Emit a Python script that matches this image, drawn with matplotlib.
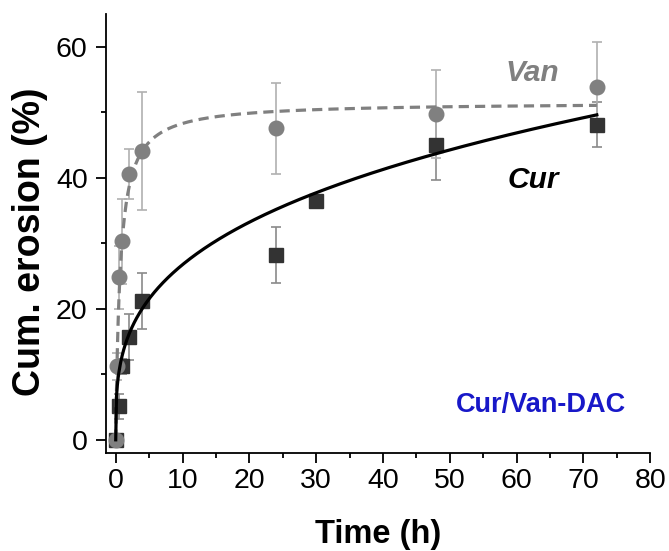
import matplotlib
matplotlib.use("Agg")
import matplotlib.pyplot as plt
import numpy as np
from matplotlib.ticker import MultipleLocator

plt.rcParams['font.family'] = ['Liberation Sans', 'DejaVu Sans']

# measured points (time in h, cumulative erosion in %)
van_t = [0, 0.25, 0.5, 1, 2, 4, 24, 48, 72]
van_y = [0, 11.2, 24.8, 30.3, 40.5, 44.0, 47.5, 49.7, 53.9]
van_err = [0, 2.0, 4.8, 6.5, 3.8, 9.0, 7.0, 6.7, 6.8]

cur_t = [0, 0.5, 1, 2, 4, 24, 30, 48, 72]
cur_y = [0, 5.1, 11.2, 15.7, 21.2, 28.2, 36.5, 45.0, 48.1]
cur_err = [0, 1.9, 1.2, 3.5, 4.3, 4.2, 0.5, 5.3, 3.5]

# fitted model parameters
van_ymax, van_k = 51.5, 0.67      # hyperbolic: ymax*t/(k+t)
cur_k, cur_n = 13.0, 0.313        # power law: k*t^n

xticks = [0, 10, 20, 30, 40, 50, 60, 70, 80]
yticks = [0, 20, 40, 60]

t_fit = np.linspace(0, 72, 600)
van_fit = van_ymax * t_fit / (van_k + t_fit)
cur_fit = cur_k * t_fit ** cur_n

fig = plt.figure(figsize=(6.69, 5.51), dpi=100)
ax = fig.add_axes([0.158, 0.178, 0.814, 0.797])

ax.errorbar(cur_t, cur_y, yerr=cur_err, fmt='s', color='#333333', ms=9.5,
            ecolor='#8a8a8a', elinewidth=1.2, capsize=3.5, capthick=1.2, zorder=2)
ax.errorbar(van_t, van_y, yerr=van_err, fmt='o', color='#808080', ms=10.5,
            ecolor='#b0b0b0', elinewidth=1.2, capsize=3.5, capthick=1.2, zorder=2)

ax.plot(t_fit, van_fit, color='#808080', lw=2.3, ls=(0, (3.2, 1.9)), zorder=3)
ax.plot(t_fit, cur_fit, color='black', lw=2.3, zorder=4)

ax.text(62.3, 56.0, 'Van', fontsize=21.5, fontweight='bold', style='italic',
        color='#808080', ha='center', va='center')
ax.text(62.5, 39.6, 'Cur', fontsize=21.5, fontweight='bold', style='italic',
        color='black', ha='center', va='center')
ax.text(63.7, 5.3, 'Cur/Van-DAC', fontsize=19.5, fontweight='bold',
        color='#1818c8', ha='center', va='center')

ax.set_xlim(-1.5, 80)
ax.set_ylim(-2, 65)
ax.set_xticks(xticks)
ax.set_yticks(yticks)
ax.xaxis.set_minor_locator(MultipleLocator(5))
ax.yaxis.set_minor_locator(MultipleLocator(10))
ax.tick_params(which='major', direction='out', length=7, width=1.3, labelsize=20.5)
ax.tick_params(which='minor', direction='out', length=3.5, width=1.3)
ax.tick_params(axis='y', which='major', pad=6)
for s in ['top', 'right']:
    ax.spines[s].set_visible(False)
for s in ['left', 'bottom']:
    ax.spines[s].set_linewidth(1.3)

ax.set_xlabel('Time (h)', fontsize=23.5, fontweight='bold', labelpad=18)
ax.set_ylabel('Cum. erosion (%)', fontsize=27, fontweight='bold')
ax.yaxis.set_label_coords(-0.106, 0.48)

fig.savefig('out.png', dpi=100)
